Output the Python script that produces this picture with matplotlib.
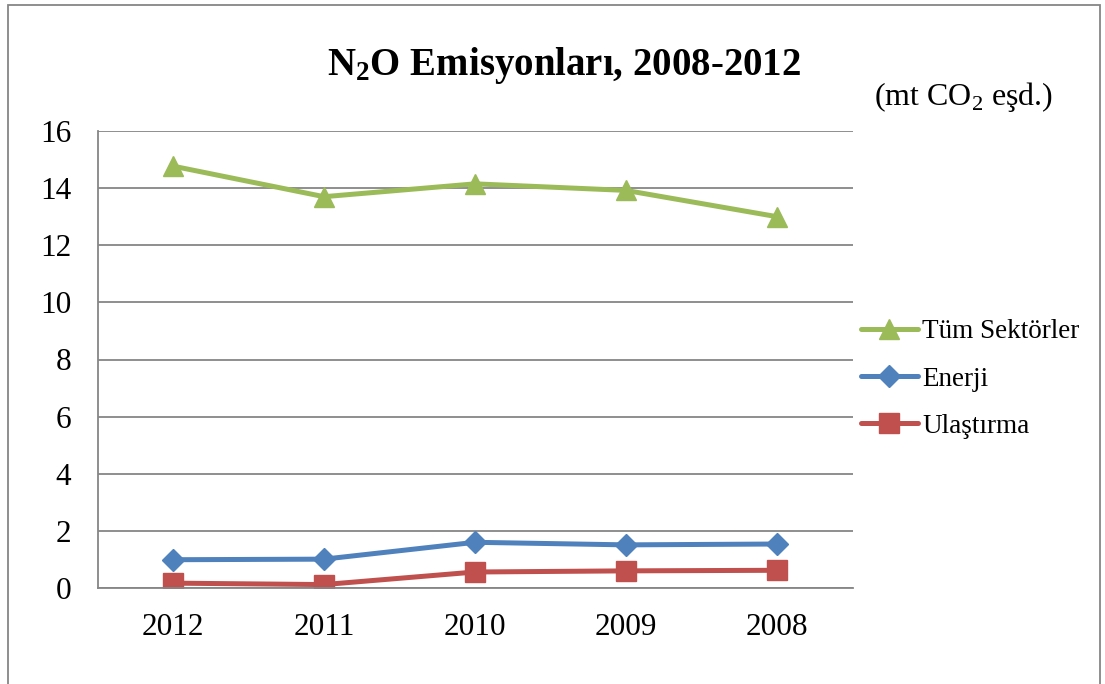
import matplotlib
matplotlib.use("Agg")
import matplotlib.pyplot as plt
from matplotlib.patches import Rectangle

years = ["2012", "2011", "2010", "2009", "2008"]
tum_sektorler = [14.77, 13.70, 14.15, 13.92, 13.00]
enerji = [0.99, 1.01, 1.60, 1.51, 1.54]
ulastirma = [0.17, 0.12, 0.56, 0.60, 0.62]
y_ticks = [0, 2, 4, 6, 8, 10, 12, 14, 16]

plt.rcParams["font.family"] = ["Liberation Serif", "DejaVu Serif"]
plt.rcParams["mathtext.fontset"] = "custom"
plt.rcParams["mathtext.rm"] = "Liberation Serif"
plt.rcParams["mathtext.bf"] = "Liberation Serif:bold"

W, H = 1105, 684
fig = plt.figure(figsize=(W / 100, H / 100), dpi=100)

grid_color = "#868686"

# outer chart frame
fig.patches.append(Rectangle((8 / W, -0.02), (1100 - 8) / W, 1.02 - 5 / H,
                             transform=fig.transFigure, fill=False,
                             edgecolor=grid_color, linewidth=1.3))

ax = fig.add_axes([97.5 / W, (H - 588) / H, 755 / W, (588 - 131) / H])
x = list(range(len(years)))

ax.plot(x, tum_sektorler, color="#9BBB59", linewidth=3.6, marker="^",
        markersize=14, label="Tüm Sektörler", solid_capstyle="round")
ax.plot(x, enerji, color="#4F81BD", linewidth=3.6, marker="D",
        markersize=11, label="Enerji", solid_capstyle="round")
ax.plot(x, ulastirma, color="#C0504D", linewidth=3.6, marker="s",
        markersize=14, label="Ulaştırma", solid_capstyle="round")

ax.set_xlim(-0.5, len(years) - 0.5)
ax.set_ylim(0, 16)
ax.set_xticks(x)
ax.set_xticklabels(years)
ax.set_yticks(y_ticks)
ax.tick_params(axis="both", length=0, labelsize=22.5, colors="black")
ax.tick_params(axis="x", pad=18)
ax.tick_params(axis="y", pad=19)
ax.grid(axis="y", color=grid_color, linewidth=1.3)
ax.set_axisbelow(True)
for side in ("top", "right"):
    ax.spines[side].set_visible(False)
for side in ("left", "bottom"):
    ax.spines[side].set_color(grid_color)
    ax.spines[side].set_linewidth(1.3)

fig.text(564 / W, 1 - 65 / H, r"$\mathbf{N_2O}$ Emisyonları, 2008-2012",
         ha="center", va="center", fontsize=28, fontweight="bold")
fig.text(964 / W, 1 - 97 / H, r"(mt CO$_2$ eşd.)", ha="center", va="center",
         fontsize=23)

ax.legend(loc="center left", bbox_to_anchor=(861 / W, 1 - 379 / H),
          bbox_transform=fig.transFigure, frameon=False, fontsize=19.5,
          handlelength=2.1, handletextpad=0.15, labelspacing=0.82,
          borderpad=0, borderaxespad=0)

fig.savefig("out.png", dpi=100)
